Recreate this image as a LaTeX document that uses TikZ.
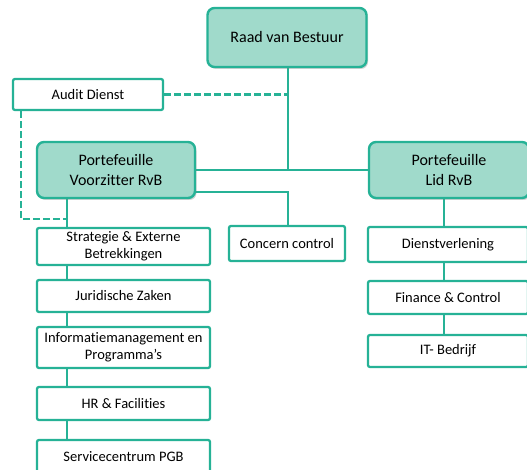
\documentclass[tikz,border=0pt]{standalone}
\usepackage{fontspec}
\setmainfont[Ligatures=NoCommon]{Carlito}
\usetikzlibrary{shadows,backgrounds,calc}
\definecolor{tealline}{RGB}{38,178,150}
\definecolor{tealfill}{RGB}{160,218,203}
\begin{document}
\begin{tikzpicture}[x=1pt,y=-1pt,
  mainbox/.style={draw=tealline, line width=2.4pt, fill=tealfill, rounded corners=7pt,
    align=center, inner sep=0pt, font=\fontsize{16}{20.5}\selectfont,
    drop shadow={opacity=0.35, shadow xshift=1.5pt, shadow yshift=-2pt}},
  subbox/.style={draw=tealline, line width=2.3pt, fill=white, rounded corners=2pt,
    align=center, inner sep=0pt, font=\fontsize{14.5}{16.7}\selectfont},
  conn/.style={draw=tealline, line width=2.2pt},
  dconn/.style={draw=tealline, line width=2.2pt, dash pattern=on 7pt off 3pt}]
\useasboundingbox (0,0) rectangle (527,470);
\node[mainbox, minimum width=159pt, minimum height=59pt] (raad) at (287,37.5) {Raad van Bestuur};
\node[subbox, minimum width=150pt, minimum height=31pt] (audit) at (88,94.5) {Audit Dienst};
\node[mainbox, minimum width=158pt, minimum height=56pt] (voorz) at (116,170) {Portefeuille\\Voorzitter RvB};
\node[mainbox, minimum width=160pt, minimum height=56pt] (lid) at (449,170) {Portefeuille\\Lid RvB};
\node[subbox, minimum width=173pt, minimum height=37pt] (strat) at (123.5,246.5) {Strategie \& Externe\\Betrekkingen};
\node[subbox, minimum width=173pt, minimum height=32pt] (jur) at (123.5,296) {Juridische Zaken};
\node[subbox, minimum width=173pt, minimum height=41pt] (info) at (123.5,347.5) {Informatiemanagement en\\Programma’s};
\node[subbox, minimum width=173pt, minimum height=33pt] (hr) at (123.5,403.5) {HR \& Facilities};
\node[subbox, minimum width=173pt, minimum height=33pt] (serv) at (123.5,456.5) {Servicecentrum PGB};
\node[subbox, minimum width=116pt, minimum height=35pt] (conc) at (287,243.5) {Concern control};
\node[subbox, minimum width=160pt, minimum height=35pt] (dienst) at (448,244.5) {Dienstverlening};
\node[subbox, minimum width=160pt, minimum height=33pt] (fin) at (448,297.5) {Finance \& Control};
\node[subbox, minimum width=160pt, minimum height=32pt] (it) at (448,351) {IT- Bedrijf};
\coordinate (colL) at (67,0);
\coordinate (colM) at (288,0);
\coordinate (colR) at (444,0);
\coordinate (dl) at (21,219);
\coordinate (vc) at (0,192);
\begin{scope}[on background layer]
\draw[conn] (raad.south -| colM) -- (colM |- voorz.east);
\draw[conn] (voorz.east) -- (lid.west);
\draw[conn] (voorz.south -| colL) -- (serv.north -| colL);
\draw[conn] (vc -| voorz.east) -| (conc.north -| colM);
\draw[conn] (lid.south -| colR) -- (it.north -| colR);
\draw[dconn] (audit.east) -- (colM |- audit.east);
\draw[dconn] (audit.south -| dl) -- (dl) -- (dl -| colL);
\end{scope}
\end{tikzpicture}
\end{document}
